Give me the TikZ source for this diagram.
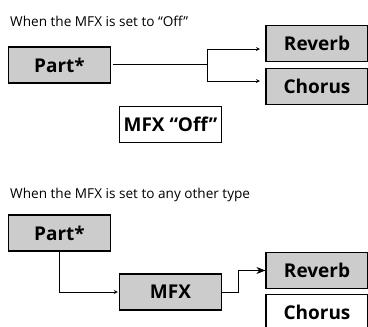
\documentclass[tikz,border=0pt]{standalone}
\usepackage{fontspec}
\setmainfont{Open Sans}
\usetikzlibrary{arrows.meta}
\definecolor{boxgray}{gray}{0.8}
\begin{document}
\begin{tikzpicture}[x=1pt, y=-1pt, >=stealth,
        fx/.style={draw, line width=1.2pt, fill=boxgray, minimum width=102pt, minimum height=36pt, inner sep=0pt, font=\bfseries\fontsize{19}{21}\selectfont},
        fxoff/.style={fx, fill=white},
        caption/.style={anchor=base west, inner sep=0pt, font=\fontsize{13.6}{16}\selectfont},
        wire/.style={line width=0.8pt}]
    \useasboundingbox (0,0) rectangle (368,327);
    % MFX off
    \node[caption] (t1) at (10,26.5) {When the MFX is set to “Off”};
    \node[fx] (part1) at (59.5,65) {Part*};
    \node[fx] (rev1) at (317,43.5) {Reverb};
    \node[fx] (cho1) at (317,86.5) {Chorus};
    \node[fxoff] (off) at (170.5,124.5) {MFX “Off”};
    \coordinate (split) at (207,64);
    \coordinate (rin1) at (260,49);
    \coordinate (cin1) at (260,81);
    \draw[wire] ([xshift=2pt]part1.east |- split) -- (split);
    \draw[wire,->] (split) |- (rin1);
    \draw[wire,->] (split) |- (cin1);
    % MFX on
    \node[caption] (t2) at (10,198.5) {When the MFX is set to any other type};
    \node[fx] (part2) at (59.5,233) {Part*};
    \node[fx] (mfx) at (170.5,292) {MFX};
    \node[fx] (rev2) at (317,270.5) {Reverb};
    \node[fxoff] (cho2) at (317,312.5) {Chorus};
    \draw[wire,->] (part2.south) |- ([xshift=-1pt]mfx.west);
    \draw[wire,-{Stealth[length=9pt,width=7pt]}] (mfx.east) -- (238,292) |- (rev2.west);
\end{tikzpicture}
\end{document}
